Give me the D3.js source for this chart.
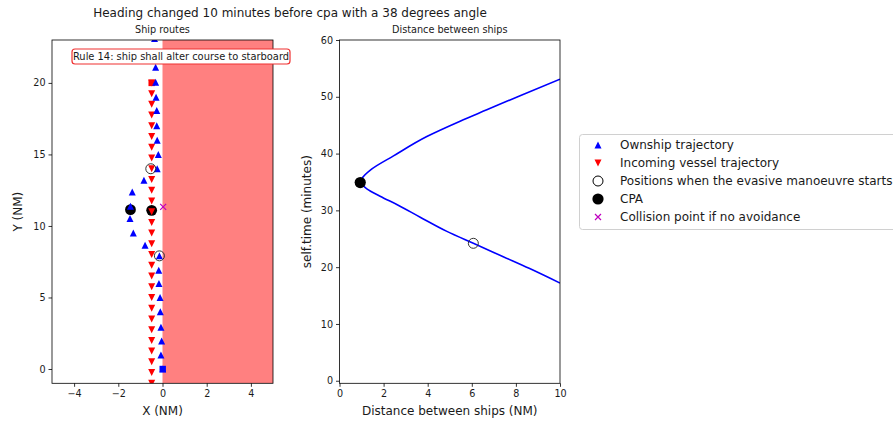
<!DOCTYPE html>
<html>
<head>
<meta charset="utf-8">
<script src="https://cdn.jsdelivr.net/npm/d3@7"></script>
<style>
body { margin: 0; background: #fff; }
text { font-family: "DejaVu Sans", sans-serif; fill: #1a1a1a; }
</style>
</head>
<body>
<script>
/*global d3*/

// Ship routes (NM)
var ownX = [0.01, -0.07, -0.04, -0.07, -0.10, -0.11, -0.16, -0.17, -0.14, -0.79, -1.32, -1.47, -1.45,
            -1.37, -0.84, -0.24, -0.19, -0.24, -0.26, -0.26, -0.29, -0.31, -0.31, -0.34, -0.36];
var ownY = [0.0, 0.98, 1.95, 2.91, 4.0, 5.0, 5.98, 6.91, 7.91, 8.65, 9.51, 10.52, 11.38,
            12.37, 13.19, 14.0, 15.0, 16.0, 17.0, 18.07, 19.0, 20.05, 21.1, 22.1, 23.1];
var incX = [-0.49, -0.49, -0.49, -0.49, -0.49, -0.49, -0.49, -0.49, -0.49, -0.49, -0.49, -0.49, -0.49, -0.49, -0.49,
            -0.49, -0.49, -0.49, -0.49, -0.49, -0.49, -0.49, -0.49, -0.49, -0.49, -0.49, -0.49, -0.49, -0.49];
var incY = [20.0, 19.25, 18.5, 17.75, 17.0, 16.25, 15.5, 14.75, 14.0, 13.25, 12.5, 11.75, 11.0, 10.25, 9.5,
            8.75, 8.0, 7.25, 6.5, 5.75, 5.0, 4.25, 3.5, 2.75, 2.0, 1.25, 0.5, -0.25, -1.0];
var manoeuvreX = [-0.14, -0.53];
var manoeuvreY = [7.91, 14.0];
var cpaX = [-1.45, -0.49];
var cpaY = [11.14, 11.09];
var collisionX = [0.03];
var collisionY = [11.33];
var zoneX = [0, 5];

// Distance between ships
var timeMin = [17.2, 19.8, 21.8, 24.2, 26.3, 28.8, 31.0, 32.5, 33.8, 34.7, 35.0,
               35.5, 37.3, 39.6, 43.0, 45.7, 47.7, 50.2, 53.1];
var distNm = [10.0, 8.6, 7.45, 6.07, 4.87, 3.66, 2.62, 1.84, 1.24, 1.0, 0.95,
              1.0, 1.47, 2.45, 3.96, 5.47, 6.68, 8.19, 10.0];
var startTime = [24.2], startDist = [6.07];
var cpaTime = [34.9], cpaDist = [0.94];

var xTicksL = [-4, -2, 0, 2, 4];
var yTicksL = [0, 5, 10, 15, 20];
var xTicksR = [0, 2, 4, 6, 8, 10];
var yTicksR = [0, 10, 20, 30, 40, 50, 60];
var legendLabels = ["Ownship trajectory", "Incoming vessel trajectory",
    "Positions when the evasive manoeuvre starts", "CPA", "Collision point if no avoidance"];

var W = 893, H = 423;
var svg = d3.select("body").append("svg")
    .attr("width", W)
    .attr("height", H);

var xL = d3.scaleLinear().domain([-5, 5]).range([52, 273]);
var yL = d3.scaleLinear().domain([-1, 23]).range([383.3, 40]);
var xR = d3.scaleLinear().domain([0, 10]).range([339.5, 560]);
var yR = d3.scaleLinear().domain([-0.45, 60]).range([383.3, 40]);

// marker paths
function tri(cx, cy, s, up) {
    var d = up ? 1 : -1;
    return "M" + cx + "," + (cy - d * s) + "L" + (cx - s) + "," + (cy + d * s) + "L" + (cx + s) + "," + (cy + d * s) + "Z";
}
function cross(cx, cy, s) {
    return "M" + (cx - s) + "," + (cy - s) + "L" + (cx + s) + "," + (cy + s) +
        "M" + (cx - s) + "," + (cy + s) + "L" + (cx + s) + "," + (cy - s);
}

var defs = svg.append("defs");
defs.append("clipPath").attr("id", "clipL").append("rect")
    .attr("x", xL(-5)).attr("y", yL(23)).attr("width", xL(5) - xL(-5)).attr("height", yL(-1) - yL(23));
defs.append("clipPath").attr("id", "clipR").append("rect")
    .attr("x", xR(0)).attr("y", yR(60)).attr("width", xR(10) - xR(0)).attr("height", yR(-0.45) - yR(60));

// main title
svg.append("text").attr("x", 290).attr("y", 17).attr("text-anchor", "middle")
    .style("font-size", "12px")
    .text("Heading changed 10 minutes before cpa with a 38 degrees angle");

//---------------- left: ship routes
var gL = svg.append("g");
var plotL = gL.append("g").attr("clip-path", "url(#clipL)");

// starboard zone
plotL.append("rect")
    .attr("x", xL(zoneX[0])).attr("y", yL(23))
    .attr("width", xL(zoneX[1]) - xL(zoneX[0]))
    .attr("height", yL(-1) - yL(23))
    .style("fill", "#ff8080");

plotL.selectAll(".cpa").data(cpaX).enter().append("circle")
    .attr("cx", function (d) { return xL(d); })
    .attr("cy", function (d, i) { return yL(cpaY[i]); })
    .attr("r", 5.4).style("fill", "#000");

plotL.selectAll(".inc").data(incX).enter().append("path")
    .attr("d", function (d, i) { return tri(xL(d), yL(incY[i]), 3.5, false); })
    .style("fill", "#ff0000");
plotL.append("rect")
    .attr("x", xL(incX[0]) - 3.2).attr("y", yL(incY[0]) - 3.2).attr("width", 6.4).attr("height", 6.4)
    .style("fill", "#ff0000");

plotL.selectAll(".own").data(ownX).enter().append("path")
    .attr("d", function (d, i) { return tri(xL(d), yL(ownY[i]), 3.5, true); })
    .style("fill", "#0000ff");
plotL.append("rect")
    .attr("x", xL(ownX[0]) - 3.2).attr("y", yL(ownY[0]) - 3.2).attr("width", 6.4).attr("height", 6.4)
    .style("fill", "#0000ff");

plotL.selectAll(".start").data(manoeuvreX).enter().append("circle")
    .attr("cx", function (d) { return xL(d); })
    .attr("cy", function (d, i) { return yL(manoeuvreY[i]); })
    .attr("r", 5).style("fill", "none").style("stroke", "#333").style("stroke-width", 1);

plotL.selectAll(".coll").data(collisionX).enter().append("path")
    .attr("d", function (d, i) { return cross(xL(d), yL(collisionY[i]), 3); })
    .style("stroke", "#bf00bf").style("stroke-width", 1.2);

// axes
gL.append("g").attr("transform", "translate(0," + yL(-1) + ")")
    .call(d3.axisBottom(xL).tickValues(xTicksL).tickSize(3.5).tickSizeOuter(0).tickPadding(3));
gL.append("g").attr("transform", "translate(" + xL(-5) + ",0)")
    .call(d3.axisLeft(yL).tickValues(yTicksL).tickSize(3.5).tickSizeOuter(0).tickPadding(3));
gL.append("rect")
    .attr("x", xL(-5)).attr("y", yL(23)).attr("width", xL(5) - xL(-5)).attr("height", yL(-1) - yL(23))
    .style("fill", "none").style("stroke", "#000").style("stroke-width", 0.8);

// rule annotation
var ann = gL.append("g");
ann.append("rect")
    .attr("x", 72).attr("y", 49).attr("width", 218).attr("height", 15).attr("rx", 3)
    .style("fill", "#fff").style("stroke", "#f03030").style("stroke-width", 1.2);
ann.append("text").attr("x", 181).attr("y", 60).attr("text-anchor", "middle")
    .style("font-size", "9.9px")
    .text("Rule 14: ship shall alter course to starboard");

gL.append("text").attr("x", (xL(-5) + xL(5)) / 2).attr("y", 33).attr("text-anchor", "middle")
    .style("font-size", "9.7px").text("Ship routes");
gL.append("text").attr("x", (xL(-5) + xL(5)) / 2).attr("y", 415).attr("text-anchor", "middle")
    .style("font-size", "12px").text("X (NM)");
gL.append("text").attr("transform", "translate(22," + ((yL(-1) + yL(23)) / 2) + ") rotate(-90)")
    .attr("text-anchor", "middle").style("font-size", "12px").text("Y (NM)");

//---------------- right: distance between ships
var gR = svg.append("g");
var plotR = gR.append("g").attr("clip-path", "url(#clipR)");

var line = d3.line()
    .x(function (d) { return xR(d); })
    .y(function (d, i) { return yR(timeMin[i]); })
    .curve(d3.curveMonotoneY);
plotR.append("path").datum(distNm)
    .attr("d", line)
    .style("fill", "none").style("stroke", "#0000ff").style("stroke-width", 1.6);

plotR.selectAll(".rstart").data(startDist).enter().append("circle")
    .attr("cx", function (d) { return xR(d); })
    .attr("cy", function (d, i) { return yR(startTime[i]); })
    .attr("r", 5).style("fill", "none").style("stroke", "#333").style("stroke-width", 1);
plotR.selectAll(".rcpa").data(cpaDist).enter().append("circle")
    .attr("cx", function (d) { return xR(d); })
    .attr("cy", function (d, i) { return yR(cpaTime[i]); })
    .attr("r", 5.6).style("fill", "#000");

gR.append("g").attr("transform", "translate(0," + yR(-0.45) + ")")
    .call(d3.axisBottom(xR).tickValues(xTicksR).tickSize(3.5).tickSizeOuter(0).tickPadding(3));
gR.append("g").attr("transform", "translate(" + xR(0) + ",0)")
    .call(d3.axisLeft(yR).tickValues(yTicksR).tickSize(3.5).tickSizeOuter(0).tickPadding(3));
gR.append("rect")
    .attr("x", xR(0)).attr("y", yR(60)).attr("width", xR(10) - xR(0)).attr("height", yR(-0.45) - yR(60))
    .style("fill", "none").style("stroke", "#000").style("stroke-width", 0.8);

gR.append("text").attr("x", (xR(0) + xR(10)) / 2).attr("y", 33).attr("text-anchor", "middle")
    .style("font-size", "9.7px").text("Distance between ships");
gR.append("text").attr("x", (xR(0) + xR(10)) / 2).attr("y", 415).attr("text-anchor", "middle")
    .style("font-size", "12px").text("Distance between ships (NM)");
gR.append("text").attr("transform", "translate(311," + ((yR(-0.45) + yR(60)) / 2) + ") rotate(-90)")
    .attr("text-anchor", "middle").style("font-size", "12px").text("self.time (minutes)");

// tick styling
svg.selectAll(".tick text").style("font-size", "9.6px").style("font-family", "DejaVu Sans, sans-serif").style("fill", "#1a1a1a");
svg.selectAll(".tick line").style("stroke", "#000").style("stroke-width", 0.8);
svg.selectAll(".domain").remove();

//---------------- legend
var leg = svg.append("g");
leg.append("rect")
    .attr("x", 579.5).attr("y", 134.5).attr("width", 330).attr("height", 95).attr("rx", 3)
    .style("fill", "#fff").style("stroke", "#d0d0d0").style("stroke-width", 1);
var legRows = leg.selectAll(".row").data(legendLabels).enter().append("g")
    .attr("transform", function (d, i) { return "translate(598," + (145 + i * 18) + ")"; });
legRows.append("text").attr("x", 22).attr("y", 4.3).style("font-size", "12px")
    .text(function (d) { return d; });
legRows.each(function (d, i) {
    var g = d3.select(this);
    if (i === 0) {
        g.append("path").attr("d", tri(0, 0, 3.5, true)).style("fill", "#0000ff");
    } else if (i === 1) {
        g.append("path").attr("d", tri(0, 0, 3.5, false)).style("fill", "#ff0000");
    } else if (i === 2) {
        g.append("circle").attr("r", 5).style("fill", "none").style("stroke", "#000").style("stroke-width", 1);
    } else if (i === 3) {
        g.append("circle").attr("r", 5.6).style("fill", "#000");
    } else {
        g.append("path").attr("d", cross(0, 0, 3)).style("stroke", "#bf00bf").style("stroke-width", 1.2);
    }
});
</script>
</body>
</html>
